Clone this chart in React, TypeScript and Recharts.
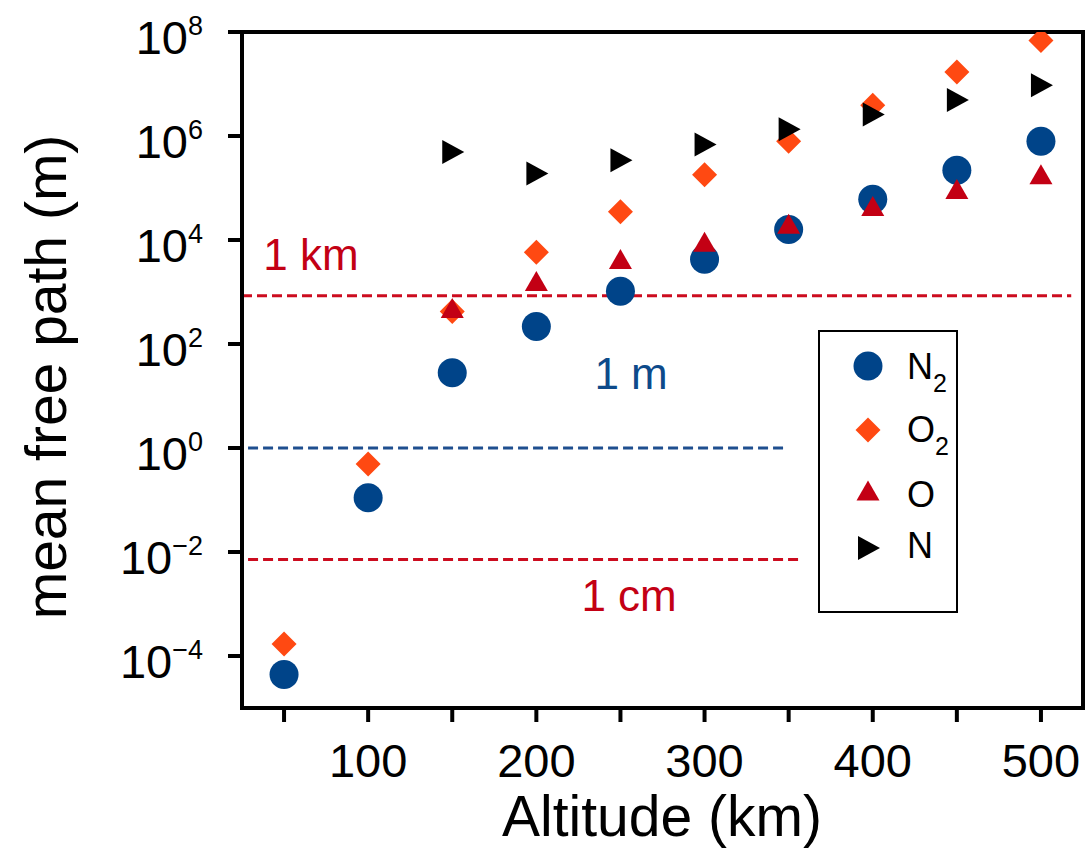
import { ScatterChart, Scatter, XAxis, YAxis, ReferenceLine, ReferenceArea, Legend } from 'recharts';

const FONT = '"Liberation Sans", Arial, Helvetica, sans-serif';

// altitude (km) and mean free path (m) per species
const altitudes = [50, 100, 150, 200, 250, 300, 350, 400, 450, 500];
const n2Path = [4.4e-5, 0.11, 28, 218, 1030, 4250, 1.6e4, 6.1e4, 2.2e5, 7.9e5];
const o2Path = [1.7e-4, 0.49, 420, 5800, 3.5e4, 1.8e5, 7.9e5, 3.9e6, 1.7e7, 6.9e7];
const oAltitudes = [150, 200, 250, 300, 350, 400, 450, 500];
const oPath = [480, 1600, 4200, 9100, 2e4, 4.4e4, 9.4e4, 1.8e5];
const nPath = [4.9e5, 1.9e5, 3.4e5, 6.9e5, 1.35e6, 2.6e6, 4.9e6, 9.5e6];

const xTicks = [50, 100, 150, 200, 250, 300, 350, 400, 450, 500];
const yTicks = [1e-4, 1e-2, 1, 1e2, 1e4, 1e6, 1e8];

const kmLevel = 850;
const mLevel = 1;
const cmLevel = 0.0072;

const BLUE = '#004489';
const ORANGE = '#ff4912';
const RED = '#c30014';

const n2Data = altitudes.map((x, i) => ({ x, y: n2Path[i] }));
const o2Data = altitudes.map((x, i) => ({ x, y: o2Path[i] }));
const oData = oAltitudes.map((x, i) => ({ x, y: oPath[i] }));
const nData = oAltitudes.map((x, i) => ({ x, y: nPath[i] }));

const circle = (cx, cy, fill) => <circle cx={cx} cy={cy} r={14.5} fill={fill} />;
const diamond = (cx, cy, fill) => (
  <polygon points={`${cx},${cy - 12.5} ${cx + 12.5},${cy} ${cx},${cy + 12.5} ${cx - 12.5},${cy}`} fill={fill} />
);
const triUp = (cx, cy, fill) => (
  <polygon points={`${cx},${cy - 10.5} ${cx + 11.5},${cy + 9.5} ${cx - 11.5},${cy + 9.5}`} fill={fill} />
);
const triRight = (cx, cy, fill) => (
  <polygon points={`${cx - 10},${cy - 12} ${cx + 12},${cy} ${cx - 10},${cy + 12}`} fill={fill} />
);

const YTick = ({ y, payload }) => {
  const exp = Math.round(Math.log10(payload.value));
  return (
    <text x={203} y={y + 22} textAnchor="end" fontSize={47} fontFamily={FONT} fill="#000">
      10
      <tspan fontSize={27} dy={-19}>{exp < 0 ? '\u2212' + -exp : String(exp)}</tspan>
    </text>
  );
};

const XTick = ({ x, payload }) => {
  if (payload.value % 100 !== 0) return <g />;
  return (
    <text x={x} y={777} textAnchor="middle" fontSize={47} fontFamily={FONT} fill="#000">
      {payload.value}
    </text>
  );
};

const lineLabel = (text, color, dx, dy) => ({ viewBox }) => (
  <text x={viewBox.x + dx} y={viewBox.y + dy} textAnchor="middle" fontSize={44} fontFamily={FONT} fill={color}>
    {text}
  </text>
);

const renderLegend = () => {
  const rows = [
    { draw: circle, color: BLUE, name: 'N', sub: '2', cy: 36, base: 49 },
    { draw: diamond, color: ORANGE, name: 'O', sub: '2', cy: 100, base: 112 },
    { draw: triUp, color: RED, name: 'O', sub: '', cy: 161, base: 177 },
    { draw: triRight, color: '#000', name: 'N', sub: '', cy: 218, base: 228 },
  ];
  return (
    <svg width={140} height={283}>
      <rect x={1} y={1} width={138} height={281} fill="#fff" stroke="#000" strokeWidth={2} />
      {rows.map((r, i) => (
        <g key={i}>
          {r.draw(50, r.cy, r.color)}
          <text x={89} y={r.base} fontSize={36} fontFamily={FONT} fill="#000">
            {r.name}
            {r.sub && <tspan fontSize={25} dy={13}>{r.sub}</tspan>}
          </text>
        </g>
      ))}
    </svg>
  );
};

export default function App() {
  return (
    <div style={{ position: 'absolute', left: 0, top: 0, background: '#fff' }}>
      <ScatterChart width={1090} height={865} margin={{ top: 32, right: 7, bottom: 0, left: 0 }}>
        <XAxis
          dataKey="x"
          type="number"
          domain={[25, 525]}
          ticks={xTicks}
          allowDataOverflow
          height={157}
          tickSize={14}
          axisLine={{ stroke: '#000', strokeWidth: 4 }}
          tickLine={{ stroke: '#000', strokeWidth: 4 }}
          tick={XTick}
          label={() => (
            <text x={662} y={836} textAnchor="middle" fontSize={57} fontFamily={FONT} fill="#000">
              Altitude (km)
            </text>
          )}
        />
        <YAxis
          dataKey="y"
          type="number"
          scale="log"
          domain={[1e-5, 1e8]}
          ticks={yTicks}
          allowDataOverflow
          width={242}
          tickSize={14}
          axisLine={{ stroke: '#000', strokeWidth: 4 }}
          tickLine={{ stroke: '#000', strokeWidth: 4 }}
          tick={YTick}
          label={() => (
            <text x={66} y={377} transform="rotate(-90 66 377)" textAnchor="middle" fontSize={57} fontFamily={FONT} fill="#000">
              mean free path (m)
            </text>
          )}
        />
        <ReferenceArea x1={25} x2={525} y1={1e-5} y2={1e8} fill="none" stroke="#000" strokeWidth={4} />
        <Scatter name="N2" data={n2Data} isAnimationActive={false} shape={(p) => circle(p.cx, p.cy, BLUE)} />
        <Scatter name="O2" data={o2Data} isAnimationActive={false} shape={(p) => diamond(p.cx, p.cy, ORANGE)} />
        <Scatter name="O" data={oData} isAnimationActive={false} shape={(p) => triUp(p.cx, p.cy, RED)} />
        <Scatter name="N" data={nData} isAnimationActive={false} shape={(p) => triRight(p.cx, p.cy, '#000')} />
        <ReferenceLine
          segment={[{ x: 25, y: kmLevel }, { x: 518, y: kmLevel }]}
          stroke="#cc0c1f"
          strokeWidth={3}
          strokeDasharray="10 5"
          label={lineLabel('1 km', RED, 69, -26)}
        />
        <ReferenceLine
          segment={[{ x: 28.6, y: mLevel }, { x: 348, y: mLevel }]}
          stroke="#1f4f8f"
          strokeWidth={3}
          strokeDasharray="10 5"
          label={lineLabel('1 m', '#0d4a8a', 383, -59)}
        />
        <ReferenceLine
          segment={[{ x: 28.6, y: cmLevel }, { x: 357, y: cmLevel }]}
          stroke="#cc0c1f"
          strokeWidth={3}
          strokeDasharray="10 5"
          label={lineLabel('1 cm', RED, 381, 52)}
        />
        <Legend
          layout="vertical"
          align="center"
          verticalAlign="middle"
          content={renderLegend}
          wrapperStyle={{ position: 'absolute', left: 818, top: 330, width: 140, height: 283 }}
        />
      </ScatterChart>
    </div>
  );
}
